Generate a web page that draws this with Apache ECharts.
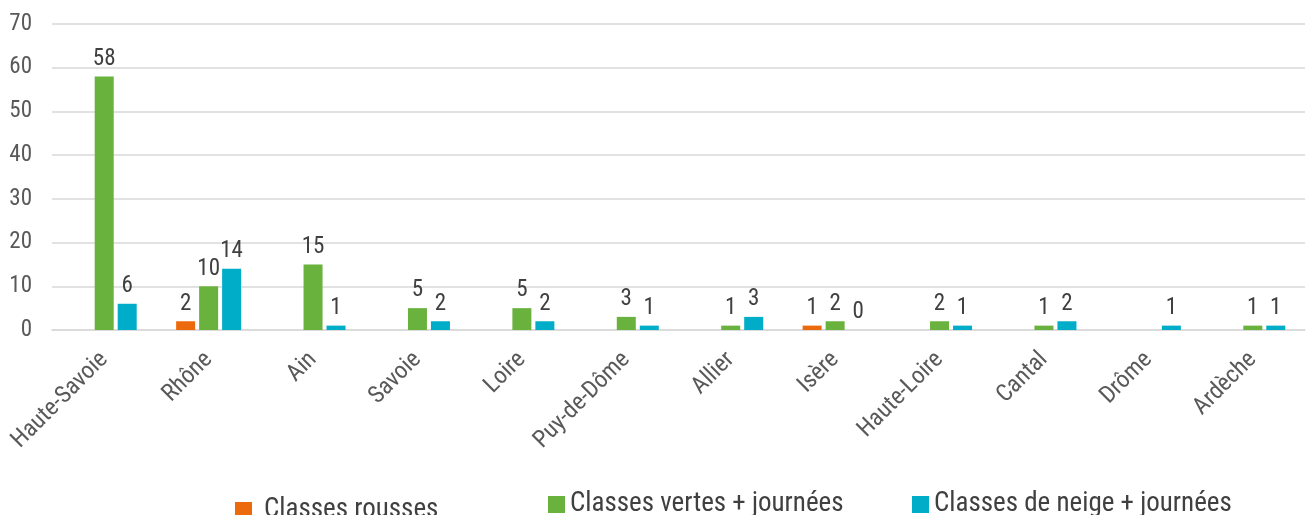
<!DOCTYPE html>
<html>
<head>
<meta charset="utf-8">
<script src="https://cdn.jsdelivr.net/npm/echarts@6/dist/echarts.min.js"></script>
<style>
  html, body { margin: 0; padding: 0; background: #fff; }
  #chart { width: 1311px; height: 515px; }
</style>
</head>
<body>
<div id="chart"></div>
<script>
// departements
var categories = ["Haute-Savoie", "Rhône", "Ain", "Savoie", "Loire", "Puy-de-Dôme",
  "Allier", "Isère", "Haute-Loire", "Cantal", "Drôme", "Ardèche"];
var seriesNames = ["Classes rousses", "Classes vertes + journées", "Classes de neige + journées"];
var rousses = [null, 2, null, null, null, null, null, 1, null, null, null, null];
var vertes = [58, 10, 15, 5, 5, 3, 1, 2, 2, 1, null, 1];
var neige = [6, 14, 1, 2, 2, 1, 3, 0, 1, 2, 1, 1];
var yTicks = [0, 10, 20, 30, 40, 50, 60, 70];

var colors = ["#ed6a0c", "#69b23d", "#00adc8"];
var font = "'Roboto Condensed', Roboto, sans-serif";

var myChart = echarts.init(document.getElementById("chart"));

function makeSeries(name, data, color) {
  return {
    name: name,
    type: "bar",
    data: data,
    barWidth: 19,
    barGap: "21%",
    itemStyle: { color: color },
    label: {
      show: true,
      position: "top",
      distance: 6,
      color: "#404040",
      fontSize: 23,
      fontFamily: font
    }
  };
}

function makeLegend(i, left, top, textPad) {
  return {
    data: [seriesNames[i]],
    left: left,
    top: top,
    padding: 0,
    icon: "rect",
    itemWidth: 17,
    itemHeight: 17,
    itemGap: 0,
    textStyle: { color: "#404040", fontSize: 27, fontFamily: font, padding: [0, 0, 0, textPad] }
  };
}

var option = {
  animation: false,
  backgroundColor: "#ffffff",
  color: colors,
  grid: { left: 52, right: 6, top: 24, bottom: 185, containLabel: false },
  legend: [
    makeLegend(0, 235, 497, 7),
    makeLegend(1, 548, 491, 0),
    makeLegend(2, 912, 491, 0)
  ],
  xAxis: {
    type: "category",
    data: categories,
    axisLine: { show: true, lineStyle: { color: "#d9d9d9", width: 1.5 } },
    axisTick: { show: false },
    axisLabel: {
      rotate: 45,
      interval: 0,
      margin: 26,
      color: "#595959",
      fontSize: 24,
      fontFamily: font
    }
  },
  yAxis: {
    type: "value",
    min: yTicks[0],
    max: yTicks[yTicks.length - 1],
    interval: 10,
    axisLine: { show: false },
    axisTick: { show: false },
    splitLine: { lineStyle: { color: "#d9d9d9", width: 1.5 } },
    axisLabel: {
      margin: 20,
      color: "#595959",
      fontSize: 23,
      fontFamily: font
    }
  },
  series: [
    makeSeries(seriesNames[0], rousses, colors[0]),
    makeSeries(seriesNames[1], vertes, colors[1]),
    makeSeries(seriesNames[2], neige, colors[2])
  ]
};

myChart.setOption(option);
</script>
</body>
</html>
